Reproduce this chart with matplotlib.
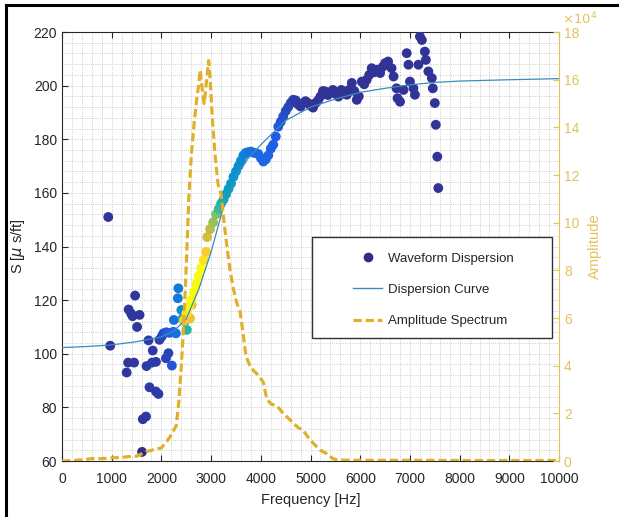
import numpy as np
import matplotlib
matplotlib.use("Agg")
import matplotlib.pyplot as plt
from matplotlib.colors import LinearSegmentedColormap
from matplotlib.lines import Line2D
from matplotlib.patches import Rectangle
from matplotlib.ticker import MultipleLocator, AutoMinorLocator

plt.rcParams['font.family'] = ['Liberation Sans', 'DejaVu Sans']

# waveform dispersion points: frequency [Hz], slowness [us/ft], colour level (0..1)
disp_freq = [930, 970, 1300, 1330, 1450, 1470, 1340, 1390, 1420, 1560, 1510, 1610,
             1625, 1690, 1700, 1740, 1760, 1810, 1825, 1890, 1890, 1940, 1960, 2005,
             2040, 2090, 2140, 2100, 2160, 2210, 2240, 2250, 2290, 2330, 2340, 2400,
             2420, 2510, 2470, 2575, 2610,
             2450, 2500, 2550, 2600, 2650, 2700, 2750, 2800, 2850, 2900, 2920, 2980,
             3040, 3100, 3150, 3200, 3250, 3300, 3350, 3400, 3450, 3500, 3550, 3600,
             3650, 3700, 3750, 3800, 3850, 3900, 3950, 4000, 4050, 4100, 4150, 4200,
             4250, 4300, 4350, 4400, 4450, 4500, 4550, 4600, 4650, 4700, 4750, 4800,
             4850, 4900, 4950, 5000, 5050, 5100, 5150, 5200, 5250, 5300, 5350, 5400,
             5450, 5500, 5560, 5620, 5680, 5730, 5780, 5830, 5880, 5930, 5970, 6030,
             6080, 6130, 6180, 6230, 6280, 6330, 6400, 6450, 6500, 6560, 6630, 6670,
             6730, 6750, 6800, 6870, 6935, 6970, 7000, 7070, 7100, 7170, 7200, 7240,
             7300, 7320, 7370, 7440, 7460, 7500, 7520, 7550, 7570]
disp_slow = [151.0, 103.0, 93.0, 96.7, 96.7, 121.7, 116.5, 115.0, 114.0, 114.5, 110.0, 63.4,
             75.6, 76.6, 95.4, 105.0, 87.5, 96.7, 101.2, 97.0, 85.9, 85.0, 105.2, 106.4,
             107.6, 98.3, 100.2, 108.0, 107.8, 95.6, 108.2, 112.6, 107.6, 120.7, 124.4, 116.3,
             113.0, 108.9, 112.0, 113.2, 118.2,
             112.5, 115.0, 117.5, 120.0, 123.0, 126.0, 129.0, 132.0, 135.0, 138.0, 143.5, 146.5,
             149.0, 152.0, 154.0, 156.0, 157.5, 159.5, 161.5, 163.5, 166.0, 168.0, 170.0, 172.0,
             174.0, 175.0, 175.2, 175.4, 175.0, 174.8, 174.5, 173.0, 171.7, 172.5, 174.0, 176.5,
             178.0, 181.0, 184.7, 186.5, 188.5, 190.5, 192.0, 193.5, 194.7, 194.5, 193.0, 192.2,
             193.5, 194.2, 193.5, 192.5, 191.8, 193.5, 194.5, 196.0, 198.0, 197.8, 196.5, 197.5,
             198.4, 197.0, 195.9, 198.4, 197.0, 196.6, 198.5, 201.0, 198.0, 194.7, 196.0, 201.5,
             200.5, 202.2, 204.0, 206.5, 205.0, 205.9, 204.7, 207.0, 208.4, 209.0, 206.5, 203.4,
             199.0, 195.3, 194.0, 198.4, 212.1, 207.8, 201.5, 199.0, 196.6, 207.8, 218.3, 217.0,
             212.7, 209.6, 205.3, 202.8, 199.0, 193.5, 185.4, 173.5, 161.8]
disp_level = [0.02, 0.02, 0.03, 0.03, 0.03, 0.03, 0.03, 0.03, 0.03, 0.03, 0.03, 0.0,
              0.03, 0.03, 0.04, 0.04, 0.04, 0.04, 0.04, 0.04, 0.04, 0.04, 0.05, 0.06,
              0.08, 0.06, 0.06, 0.10, 0.12, 0.10, 0.15, 0.18, 0.18, 0.22, 0.22, 0.30,
              0.40, 0.50, 0.60, 0.85, 0.85,
              0.90, 0.95, 1.0, 1.0, 1.0, 1.0, 1.0, 1.0, 0.95, 0.90, 0.80, 0.75,
              0.70, 0.65, 0.55, 0.50, 0.45, 0.40, 0.38, 0.36, 0.34, 0.32, 0.30, 0.28,
              0.26, 0.24, 0.22, 0.20, 0.19, 0.18, 0.17, 0.16, 0.16, 0.15, 0.15, 0.14,
              0.13, 0.12, 0.11, 0.10, 0.09, 0.08, 0.07, 0.06, 0.05, 0.04, 0.04, 0.03,
              0.03, 0.03, 0.03] + [0.02] * 54

# fitted dispersion curve
curve_freq = [0, 500, 1000, 1500, 2000, 2250, 2500, 2750, 3000, 3250, 3500, 3750,
              4000, 4250, 4500, 5000, 5500, 6000, 6500, 7000, 7500, 8000, 9000, 10000]
curve_slow = [102.3, 102.7, 103.3, 104.5, 106.3, 108.5, 113.0, 124.0, 138.0, 155.0, 166.0, 173.0,
              178.0, 182.5, 187.0, 192.0, 195.0, 197.5, 199.0, 200.3, 201.2, 201.7, 202.2, 202.6]

# amplitude spectrum, in units of 1e4
amp_freq = [0, 200, 400, 600, 800, 1000, 1200, 1400, 1500, 1600, 1700, 1800, 1900, 2000,
            2100, 2200, 2300, 2350, 2400, 2450, 2500, 2550, 2600, 2650, 2700, 2750, 2780,
            2820, 2860, 2900, 2950, 2980, 3020, 3080, 3140, 3200, 3240, 3300, 3380, 3450,
            3520, 3580, 3640, 3700, 3780, 3850, 3950, 4050, 4120, 4200, 4330, 4450, 4550,
            4650, 4750, 4850, 4950, 5050, 5200, 5330, 5450, 5550, 6000, 7000, 8000, 9000, 10000]
amp_val = [0.0, 0.02, 0.05, 0.1, 0.1, 0.13, 0.15, 0.2, 0.2, 0.3, 0.4, 0.45, 0.5, 0.55,
           0.8, 1.1, 1.5, 2.5, 4.0, 5.8, 8.2, 11.0, 12.8, 14.0, 15.0, 15.8, 16.4,
           15.6, 15.0, 15.8, 16.8, 16.0, 14.5, 12.8, 11.6, 11.2, 10.4, 9.3, 8.0, 7.2,
           6.6, 6.3, 5.4, 4.4, 4.0, 3.8, 3.6, 3.3, 2.6, 2.4, 2.3, 2.0, 1.8,
           1.6, 1.4, 1.3, 1.0, 0.75, 0.45, 0.3, 0.1, 0.04, 0.03, 0.03, 0.02, 0.02, 0.02]

parula = LinearSegmentedColormap.from_list("parula", [
    (0.000, (0.2081, 0.1663, 0.5292)),
    (0.125, (0.1157, 0.3730, 0.9132)),
    (0.250, (0.0592, 0.5125, 0.8476)),
    (0.375, (0.0267, 0.6198, 0.7779)),
    (0.500, (0.1379, 0.7081, 0.6564)),
    (0.625, (0.4239, 0.7617, 0.4663)),
    (0.750, (0.7387, 0.7367, 0.2796)),
    (0.875, (0.9883, 0.7469, 0.2267)),
    (1.000, (0.9763, 0.9831, 0.0538))])

amp_color = '#e0b02c'
amp_tick_color = '#e2c25e'
curve_color = '#3a8cbc'
txt_color = '#262626'
amp_dash = (0, (2.6, 1.2))

fig = plt.figure(figsize=(6.19, 5.17), dpi=100)
ax = fig.add_axes([0.1002, 0.1083, 0.803, 0.8298])
ax2 = ax.twinx()

ax.scatter(disp_freq, disp_slow, c=disp_level, cmap=parula, vmin=0, vmax=1,
           s=50, edgecolors='none', zorder=3)
ax.plot(curve_freq, curve_slow, color=curve_color, lw=0.9, zorder=4)

ax2.plot(amp_freq, amp_val, color=amp_color, lw=2.3, ls=amp_dash)

ax.set_xlim(0, 10000)
ax.set_ylim(60, 220)
ax2.set_ylim(0, 18)
ax.xaxis.set_major_locator(MultipleLocator(1000))
ax.yaxis.set_major_locator(MultipleLocator(20))
ax.xaxis.set_minor_locator(AutoMinorLocator(5))
ax.yaxis.set_minor_locator(AutoMinorLocator(5))
ax2.yaxis.set_major_locator(MultipleLocator(2))

ax.grid(which='both', ls=':', color='#bdbdbd', lw=0.6)
ax.set_axisbelow(True)

ax.tick_params(which='major', direction='in', length=4, top=True, right=False,
               labelsize=10, colors=txt_color)
ax.tick_params(axis='x', pad=8)
ax.tick_params(which='minor', length=0)
ax2.tick_params(direction='in', length=4, labelsize=10, colors=amp_tick_color)
for sp in ['left', 'top', 'bottom']:
    ax.spines[sp].set_color(txt_color)
ax2.spines['right'].set_color(amp_tick_color)
ax2.spines['left'].set_visible(False)
ax2.spines['top'].set_visible(False)
ax2.spines['bottom'].set_visible(False)
ax.spines['right'].set_visible(False)

ax.set_xlabel('Frequency [Hz]', fontsize=10.5, color=txt_color, labelpad=5)
ax.set_ylabel(r'S [$\mu$ s/ft]', fontsize=10.5, color=txt_color, labelpad=5)
ax2.set_ylabel('Amplitude', fontsize=10.5, color=amp_tick_color, labelpad=6)
ax2.text(1.005, 1.012, r'$\times10^4$', transform=ax2.transAxes, fontsize=9.5,
         color=amp_tick_color, va='bottom', ha='left')

# legend: box drawn separately so the entries sit to the right as in the original
ax2.add_patch(Rectangle((0.503, 0.287), 0.483, 0.235, transform=ax2.transAxes,
                        facecolor='white', edgecolor='#333333', lw=1.0, zorder=5))
handles = [Line2D([], [], ls='none', marker='o', ms=6, color=parula(0.0)),
           Line2D([], [], color=curve_color, lw=1.0),
           Line2D([], [], color=amp_color, lw=2.3, ls=amp_dash)]
labels = ['Waveform Dispersion', 'Dispersion Curve', 'Amplitude Spectrum']
leg = ax2.legend(handles, labels, loc='upper left', bbox_to_anchor=(0.5855, 0.486),
                 borderaxespad=0, borderpad=0, frameon=False, fontsize=9.5,
                 labelspacing=1.45, handlelength=2.2, handletextpad=0.45)
leg.set_zorder(6)
for t in leg.get_texts():
    t.set_color(txt_color)

# frame of the screenshot
fig.add_artist(Line2D([0.0095, 1.0], [0.990, 0.990], color='black', lw=2.2))
fig.add_artist(Line2D([0.0095, 0.0095], [0.0, 0.990], color='black', lw=2.2))

fig.savefig('out.png', dpi=100)
